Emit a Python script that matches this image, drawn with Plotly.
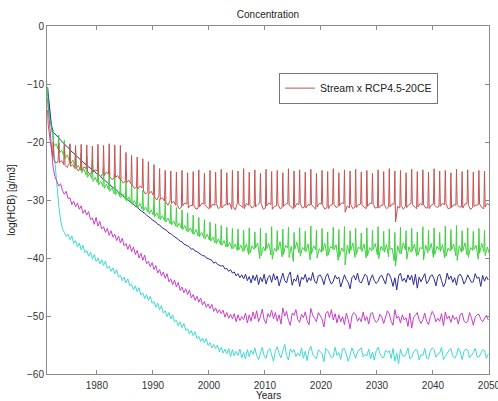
import numpy as np
import plotly.graph_objects as go

# ---------------- data ----------------
start_year = 1971.2
n_years = 79

# Red and green: four readings per year (annual peak, then three between-peak values)
red = [
    -14.5, -17.0, -20.0, -22.5,  -20.0, -23.0, -23.6, -23.4,  -20.2, -23.6, -23.2, -23.9,
    -20.4, -24.0, -24.4, -23.7,  -20.3, -24.2, -23.9, -24.6,  -20.6, -24.5, -25.0, -24.3,
    -20.4, -24.9, -24.3, -24.6,  -20.5, -25.0, -25.5, -25.3,  -20.7, -25.2, -24.8, -25.0,
    -20.4, -25.6, -26.0, -25.4,  -20.6, -25.8, -25.2, -25.5,  -20.3, -26.0, -26.5, -26.2,
    -20.5, -26.1, -25.8, -26.4,  -20.6, -26.5, -27.1, -26.7,  -21.8, -27.0, -26.6, -27.2,
    -22.3, -27.4, -28.0, -27.8,  -22.6, -28.1, -27.6, -27.9,  -22.9, -28.4, -29.0, -28.6,
    -23.4, -28.9, -28.5, -29.2,  -23.9, -29.5, -30.0, -29.3,  -24.6, -29.9, -29.6, -30.2,
    -24.9, -30.4, -30.9, -30.1,  -25.0, -30.6, -30.2, -30.9,  -25.2, -30.8, -31.5, -31.3,
    -24.9, -31.0, -30.5, -30.7,  -25.3, -31.4, -30.9, -31.0,  -25.1, -30.9, -31.6, -31.4,
    -24.8, -31.2, -30.6, -30.7,  -25.4, -30.8, -31.3, -31.5,  -24.9, -31.3, -30.7, -30.9,
    -25.2, -30.6, -31.5, -31.2,  -24.7, -31.4, -30.9, -30.8,  -25.3, -30.9, -30.5, -31.6,
    -24.9, -31.1, -31.7, -30.6,  -25.0, -30.7, -31.0, -31.3,  -24.6, -31.5, -30.6, -30.9,
    -25.2, -30.8, -31.4, -31.1,  -24.8, -31.2, -30.8, -30.5,  -25.4, -30.6, -31.6, -31.4,
    -24.7, -31.0, -30.5, -30.8,  -25.1, -31.6, -31.1, -31.0,  -24.9, -30.7, -31.5, -31.3,
    -25.3, -31.1, -30.7, -30.6,  -24.6, -30.9, -31.2, -31.5,  -25.0, -31.3, -30.6, -30.8,
    -24.8, -30.6, -31.4, -31.2,  -25.2, -31.4, -30.8, -30.9,  -24.7, -30.8, -31.2, -31.6,
    -25.4, -31.2, -30.6, -30.7,  -24.9, -30.9, -31.6, -31.3,  -25.1, -31.5, -30.9, -30.8,
    -24.6, -30.7, -31.3, -31.1,  -25.3, -31.0, -30.5, -30.6,  -24.8, -32.1, -31.0, -31.4,
    -25.0, -30.8, -31.5, -31.2,  -24.7, -31.3, -30.8, -30.7,  -25.2, -30.9, -31.2, -31.5,
    -24.9, -31.1, -30.6, -30.6,  -25.4, -30.7, -31.4, -31.3,  -24.8, -31.4, -30.9, -30.9,
    -25.1, -30.8, -31.5, -31.2,  -24.6, -31.2, -30.7, -30.7,  -25.0, -33.8, -31.1, -31.4,
    -24.9, -30.9, -31.6, -31.1,  -25.3, -31.3, -30.8, -30.6,  -24.7, -30.7, -31.2, -31.5,
    -25.1, -31.2, -30.6, -30.9,  -24.8, -30.8, -31.4, -31.3,  -25.2, -31.5, -30.9, -30.7,
    -24.6, -30.9, -31.3, -31.1,  -25.0, -31.1, -30.6, -30.8,  -24.9, -30.6, -31.5, -31.4,
    -25.3, -31.3, -30.8, -30.9,  -24.7, -30.8, -31.2, -31.2,  -25.1, -31.4, -30.7, -30.6,
    -24.8, -30.9, -31.6, -31.3,  -25.2, -31.1, -30.9, -30.8,  -24.9, -30.7, -31.3, -31.5,
    -25.0, -31.2, -30.6, -30.9,
]

green = [
    -10.5, -14.5, -16.5, -18.5,  -18.0, -20.8, -20.3, -21.2,  -18.8, -21.9, -21.4, -22.3,
    -19.7, -22.9, -22.2, -23.2,  -20.5, -23.8, -23.1, -24.2,  -21.2, -24.6, -24.0, -24.9,
    -21.9, -25.3, -24.7, -25.7,  -22.5, -26.1, -25.4, -26.3,  -23.1, -26.8, -26.1, -27.0,
    -23.8, -27.4, -26.8, -27.7,  -24.4, -28.0, -27.3, -28.2,  -25.0, -28.5, -27.9, -28.9,
    -25.5, -29.1, -28.4, -29.4,  -26.2, -29.6, -29.0, -29.9,  -26.7, -30.2, -29.5, -30.5,
    -27.2, -30.8, -30.1, -31.0,  -27.8, -31.3, -30.6, -31.6,  -28.3, -31.9, -31.2, -32.1,
    -28.8, -32.4, -31.7, -32.6,  -29.3, -32.9, -32.2, -33.2,  -29.8, -33.4, -32.7, -33.6,
    -30.3, -33.8, -33.1, -34.1,  -30.8, -34.3, -33.6, -34.5,  -31.3, -34.7, -34.0, -34.9,
    -31.7, -35.1, -34.4, -35.4,  -32.2, -35.5, -34.8, -35.8,  -32.6, -35.9, -35.1, -36.2,
    -33.0, -36.3, -35.6, -36.5,  -33.4, -36.7, -35.9, -36.9,  -33.8, -37.1, -36.4, -37.4,
    -34.1, -37.5, -36.7, -37.7,  -34.4, -37.8, -37.0, -38.1,  -34.7, -38.1, -37.3, -38.4,
    -34.9, -38.4, -37.6, -38.7,  -35.0, -38.6, -37.8, -38.9,  -35.2, -38.7, -37.6, -39.4,
    -34.8, -39.2, -37.9, -38.5,  -35.5, -38.3, -37.4, -40.1,  -34.9, -39.6, -38.1, -38.8,
    -35.7, -38.4, -37.5, -39.5,  -34.6, -40.2, -38.3, -38.9,  -35.3, -38.6, -37.2, -39.8,
    -35.0, -39.4, -37.8, -38.3,  -34.7, -39.9, -38.0, -40.6,  -35.6, -38.5, -37.3, -39.1,
    -34.8, -39.7, -38.2, -38.7,  -35.4, -38.9, -37.6, -40.3,  -34.5, -39.3, -37.9, -38.6,
    -35.2, -40.0, -38.4, -39.0,  -34.9, -38.8, -37.5, -39.7,  -35.5, -39.5, -38.0, -38.4,
    -34.7, -38.6, -37.7, -40.4,  -35.1, -39.8, -38.3, -38.9,  -34.6, -41.2, -37.8, -39.3,
    -35.3, -38.7, -37.4, -39.9,  -34.9, -39.4, -38.1, -38.5,  -35.7, -38.9, -37.6, -40.0,
    -34.8, -39.6, -38.2, -38.8,  -35.2, -38.5, -37.5, -39.5,  -34.6, -40.1, -38.0, -38.7,
    -35.4, -39.0, -37.7, -39.8,  -35.0, -38.6, -38.3, -40.5,  -35.6, -41.4, -37.9, -39.2,
    -34.7, -39.3, -37.4, -38.6,  -35.3, -40.2, -38.1, -39.0,  -34.9, -38.8, -37.6, -39.7,
    -35.5, -39.5, -38.2, -38.4,  -34.6, -40.3, -37.8, -39.1,  -35.2, -38.7, -37.5, -39.9,
    -34.8, -39.4, -38.0, -38.6,  -35.6, -38.9, -37.7, -40.0,  -34.5, -39.7, -38.3, -38.8,
    -35.1, -38.6, -37.6, -39.6,  -34.4, -40.4, -37.9, -39.0,  -35.3, -38.8, -37.4, -39.5,
    -34.8, -39.9, -38.2, -38.7,  -35.4, -38.5, -37.8, -40.2,  -34.9, -39.2, -37.5, -38.9,
    -35.2, -39.6, -38.1, -39.3,
]

# Blue, magenta, cyan: three readings per year
blue = [
    -10.5, -13.5, -17.0,  -18.3, -18.6, -19.0,  -19.3, -19.7, -20.0,  -20.4, -20.6, -21.0,
    -21.3, -21.7, -21.9,  -22.3, -22.5, -22.9,  -23.1, -23.5, -23.7,  -24.0, -24.3, -24.5,
    -24.8, -25.0, -25.4,  -25.6, -25.8, -26.2,  -26.4, -26.7, -27.0,  -27.2, -27.6, -27.8,
    -28.1, -28.3, -28.7,  -28.9, -29.1, -29.5,  -29.7, -29.9, -30.3,  -30.5, -30.7, -31.1,
    -31.2, -31.6, -31.8,  -32.1, -32.3, -32.6,  -32.8, -33.1, -33.4,  -33.6, -33.8, -34.2,
    -34.3, -34.7, -34.9,  -35.1, -35.3, -35.7,  -35.8, -36.1, -36.3,  -36.6, -36.8, -37.1,
    -37.2, -37.6, -37.7,  -37.9, -38.1, -38.5,  -38.4, -38.8, -38.9,  -39.1, -39.3, -39.6,
    -39.6, -40.0, -40.1,  -40.3, -40.4, -40.9,  -40.7, -41.1, -41.2,  -41.4, -41.3, -41.9,
    -41.8, -42.3, -42.0,  -42.6, -42.4, -43.1,  -42.7, -43.4, -42.9,  -43.6, -42.8, -43.9,
    -43.2, -44.3, -43.0,  -43.9, -42.9, -44.6,  -43.3, -44.1, -42.8,  -44.5, -43.4, -43.0,
    -44.2, -42.7, -43.8,  -43.1, -44.8, -43.5,  -42.6, -43.9, -44.3,  -43.0, -42.4, -44.7,
    -43.6, -44.0, -42.9,  -44.9, -43.3, -43.7,  -42.8, -44.2, -43.4,  -43.9, -42.5, -44.0,
    -44.4, -43.1, -42.9,  -43.5, -44.6, -43.2,  -42.7, -43.8, -44.5,  -44.0, -43.0, -43.6,
    -43.3, -45.0, -43.9,  -42.9, -43.7, -44.2,  -45.3, -43.4, -43.0,  -43.8, -42.6, -44.1,
    -44.3, -43.5, -42.8,  -43.1, -44.7, -43.6,  -42.9, -43.9, -44.4,  -44.0, -43.2, -43.0,
    -43.7, -44.5, -42.7,  -42.8, -43.6, -44.9,  -43.4, -45.5, -43.1,  -42.6, -44.0, -43.5,
    -44.2, -42.9, -43.8,  -43.0, -44.6, -42.8,  -45.2, -43.3, -44.1,  -43.5, -42.7, -44.4,
    -44.0, -43.1, -42.9,  -43.6, -44.8, -43.2,  -42.8, -43.9, -45.0,  -44.3, -42.6, -43.7,
    -43.1, -44.2, -43.4,  -44.7, -43.0, -42.8,  -43.4, -44.5, -43.9,  -42.9, -43.6, -44.2,
    -44.1, -42.7, -43.5,  -43.3, -44.9, -43.0,  -44.0, -43.2, -43.8,
]

magenta = [
    -12.5, -17.0, -21.5,  -24.5, -26.0, -26.8,  -27.6, -27.2, -28.4,  -29.0, -28.5, -29.8,
    -29.6, -30.8, -30.2,  -31.2, -30.5, -31.6,  -31.0, -32.3, -31.7,  -32.6, -32.0, -33.4,
    -33.1, -34.2, -33.0,  -34.5, -33.7, -35.0,  -34.6, -35.6, -34.9,  -36.1, -35.3, -36.4,
    -35.9, -37.0, -36.2,  -37.4, -36.6, -37.9,  -37.5, -38.5, -37.7,  -38.9, -38.1, -39.4,
    -38.7, -40.0, -39.2,  -40.4, -39.5, -41.0,  -40.6, -41.5, -40.8,  -42.0, -41.3, -42.6,
    -42.0, -43.1, -42.4,  -43.5, -42.7, -44.1,  -43.6, -44.6, -43.8,  -45.0, -44.2, -45.6,
    -45.0, -46.0, -45.3,  -46.3, -45.5, -46.9,  -46.3, -47.3, -46.6,  -47.6, -46.9, -48.1,
    -47.5, -48.5, -47.9,  -48.7, -48.0, -49.2,  -48.6, -49.5, -48.9,  -49.6, -49.0, -50.2,
    -49.4, -50.4, -49.7,  -50.5, -49.6, -51.0,  -49.8, -50.8, -50.1,  -50.6, -49.5, -51.2,
    -49.8, -50.9, -49.3,  -50.5, -49.1, -51.0,  -50.1, -48.8, -50.7,  -51.3, -49.6, -50.2,
    -49.0, -50.5, -49.4,  -50.9, -49.8, -51.4,  -48.6, -50.0, -49.2,  -50.8, -51.6, -49.5,
    -49.9, -48.9, -50.6,  -51.1, -49.7, -50.3,  -49.3, -50.8, -51.5,  -48.7, -49.9, -50.4,
    -51.0, -49.4, -50.0,  -50.5, -51.9, -49.6,  -49.2, -50.3, -48.9,  -50.7, -49.6, -51.2,
    -49.8, -51.0, -50.1,  -51.5, -49.5, -50.6,  -52.2, -50.0, -49.4,  -49.7, -50.9, -50.3,
    -51.0, -49.3, -50.8,  -50.1, -51.4, -49.6,  -49.4, -50.6, -51.1,  -50.8, -49.7, -50.2,
    -51.3, -50.0, -49.1,  -49.6, -50.9, -51.6,  -48.9, -50.4, -50.0,  -51.2, -49.8, -50.7,
    -50.3, -51.8, -49.5,  -52.1, -50.2, -49.9,  -49.4, -50.7, -51.3,  -50.6, -49.5, -50.9,
    -51.5, -50.1, -49.2,  -49.8, -51.0, -50.4,  -50.9, -49.6, -51.7,  -49.3, -50.5, -50.0,
    -51.1, -49.9, -50.6,  -50.2, -51.4, -49.7,  -49.5, -50.8, -51.2,  -50.9, -49.4, -50.3,
    -51.6, -50.2, -49.8,  -49.7, -50.6, -51.0,  -50.4, -49.9, -50.7,
]

cyan = [
    -11.5, -14.0, -17.0,  -20.0, -24.0, -27.5,  -31.0, -33.5, -35.0,  -35.6, -36.3, -35.9,
    -36.8, -36.2, -37.5,  -37.0, -38.1, -37.4,  -38.6, -37.8, -39.1,  -38.7, -39.7, -39.0,
    -40.2, -39.4, -40.6,  -40.0, -41.0, -40.3,  -41.3, -40.5, -41.8,  -41.4, -42.3, -41.7,
    -42.7, -42.0, -43.3,  -43.0, -43.9, -43.3,  -44.3, -43.6, -44.8,  -44.5, -45.5, -44.8,
    -45.8, -45.1, -46.4,  -46.0, -47.0, -46.3,  -47.3, -46.6, -47.8,  -47.5, -48.5, -47.8,
    -48.9, -48.2, -49.5,  -49.1, -50.1, -49.4,  -50.5, -49.8, -51.0,  -50.7, -51.7, -51.0,
    -52.0, -51.3, -52.5,  -52.2, -53.1, -52.5,  -53.4, -52.7, -53.9,  -53.5, -54.4, -53.8,
    -54.6, -53.9, -55.1,  -54.6, -55.5, -54.9,  -55.6, -55.0, -56.2,  -55.4, -56.4, -55.7,
    -56.5, -55.6, -57.0,  -55.8, -56.9, -56.1,  -56.8, -55.7, -57.2,  -56.3, -57.4, -55.8,
    -57.0, -55.9, -56.6,  -55.5, -56.8, -57.5,  -56.2, -55.4, -56.9,  -57.3, -56.0, -55.6,
    -56.7, -57.8, -56.1,  -55.3, -56.5, -57.2,  -56.0, -54.9, -56.8,  -57.6, -55.7, -56.3,
    -55.8, -57.0, -56.4,  -56.9, -55.5, -57.3,  -56.1, -57.7, -55.9,  -55.2, -56.6, -57.1,
    -57.4, -55.8, -56.2,  -56.5, -57.9, -55.6,  -55.9, -56.7, -57.2,  -57.0, -55.4, -56.8,
    -56.3, -57.5, -55.7,  -55.6, -56.9, -57.8,  -56.8, -55.5, -56.4,  -57.3, -56.1, -55.8,
    -55.5, -57.0, -56.6,  -56.9, -55.7, -57.4,  -56.2, -57.6, -56.0,  -55.4, -56.5, -57.1,
    -57.2, -55.9, -56.3,  -56.0, -57.3, -55.6,  -57.8, -56.4, -58.2,  -55.7, -56.8, -57.0,
    -56.5, -55.5, -57.4,  -57.1, -56.2, -55.8,  -55.9, -57.6, -56.7,  -56.8, -55.6, -57.2,
    -57.4, -56.0, -55.5,  -55.8, -57.1, -56.6,  -56.4, -55.4, -57.5,  -57.0, -56.3, -55.9,
    -55.6, -56.9, -57.3,  -56.7, -55.5, -56.2,  -57.5, -56.1, -55.7,  -55.9, -57.2, -56.8,
    -56.3, -55.6, -57.0,  -57.1, -56.4, -55.8,  -56.0, -57.3, -56.5,
]

x_tick_values = [1980, 1990, 2000, 2010, 2020, 2030, 2040, 2050]
y_tick_values = [0, -10, -20, -30, -40, -50, -60]
legend_label = "Stream x RCP4.5-20CE"

# ---------------- sampling times ----------------
year_starts = start_year + np.arange(n_years)
spike_offsets = np.array([0.0, 0.12, 0.5, 0.88])      # within-year sampling for red/green
smooth_offsets = np.array([0.0, 1 / 3, 2 / 3])        # within-year sampling for others
t_spiky = (year_starts[:, None] + spike_offsets[None, :]).ravel()
t_smooth = (year_starts[:, None] + smooth_offsets[None, :]).ravel()

series = [
    (t_smooth, cyan, "#40d8d8", False, "cyan"),
    (t_smooth, magenta, "#c840c8", False, "magenta"),
    (t_smooth, blue, "#2c2c9c", False, "blue"),
    (t_spiky, green, "#40d040", False, "green"),
    (t_spiky, red, "#c85252", True, legend_label),
]

FONT = "Liberation Sans, Arial, sans-serif"

fig = go.Figure()
for t, vals, color, show, name in series:
    fig.add_trace(go.Scatter(
        x=t[:len(vals)], y=vals, mode="lines", name=name,
        line=dict(color=color, width=1), showlegend=show,
    ))

axis_common = dict(
    showgrid=False, zeroline=False, showline=True, linecolor="#8a8a8a", linewidth=1,
    mirror="ticks", ticks="inside", ticklen=4, tickcolor="#8a8a8a", automargin=False,
    tickfont=dict(family=FONT, size=10, color="#333333"),
)

fig.update_layout(
    width=498, height=401,
    margin=dict(l=47, r=9, t=26, b=27),
    paper_bgcolor="white", plot_bgcolor="white",
    title=dict(text="Concentration", x=0.538, xanchor="center", y=0.965, yanchor="middle",
               font=dict(family=FONT, size=10, color="#222222")),
    xaxis=dict(range=[1971.1, 2050.001], tickvals=x_tick_values, ticklabelstandoff=2,
               ticklabeloverflow="allow", **axis_common),
    yaxis=dict(range=[-60, 0], tickvals=y_tick_values,
               title=dict(text="log(HCB) [g/m3]", standoff=9, font=dict(family=FONT, size=10, color="#222222")),
               **axis_common),
    legend=dict(x=0.525, y=0.866, xanchor="left", yanchor="top",
                bgcolor="white", bordercolor="#777777", borderwidth=1,
                font=dict(family=FONT, size=10.5, color="#222222"),
                tracegroupgap=0, itemwidth=30),
    annotations=[dict(text="Years", xref="paper", yref="paper", x=0.5, y=-0.061,
                      xanchor="center", yanchor="middle", showarrow=False,
                      font=dict(family=FONT, size=10, color="#222222"))],
)

fig.write_html("out.html")
